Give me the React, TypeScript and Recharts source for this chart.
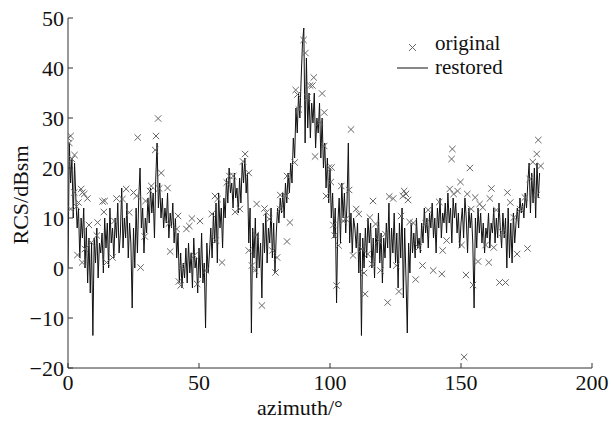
import React from "react";
import { ComposedChart, Line, Scatter, XAxis, YAxis } from "recharts";

// restored curve, one value every 0.5 deg from 0 to 180
const AZ_STEP = 0.5;
const RESTORED = [
  0, 25, 17, 22, 10, 21, 14, 8, 12, 2,
  10, 6, 12, 0, 8, -3, 6, -5, 5, -13.5,
  6, 1, 8, -2, 5, 3, 7, -1, 10, 4,
  9, 0, 12, 5, 8, 2, 10, 6, 13, 3,
  7, 16, 4, 10, 6, 13, 2, 9, 5, -8,
  8, 0, 12, 3, 14, 20, 8, 12, 3, 10,
  7, 14, 9, 16, 11, 15, 6, 18, 25, 12,
  17, 10, 14, 8, 12, 9, 15, 6, 11, 8,
  13, 5, 10, 2, 7, -3, 3, -4, 1, -2,
  4, -3, 5, -1, 3, -4, 6, 0, 2, -5,
  4, -2, 7, -3, 1, -12, 5, -1, 3, 8,
  2, 11, 5, 13, 1, 15, 8, 12, 4, 14,
  10, 18, 13, 20, 15, 17, 12, 19, 14, 16,
  11, 18, 13, 21, 17, 22, 15, 19, 5, 12,
  -13, 8, 2, 10, -2, 7, 0, 5, -6, 9,
  3, 11, 1, 8, 5, 12, 2, 9, -1, 7,
  12, 9, 14, 11, 15, 10, 17, 13, 19, 15,
  21, 17, 26, 22, 32, 27, 35, 30, 38, 45,
  48, 25, 42, 28, 35, 26, 33, 29, 35, 24,
  30, 27, 33, 22, 30, 20, 25, 16, 22, 13,
  20, 10, 15, 6, 12, -7, 9, 14, 5, 17,
  10, 15, 7, 13, 25, 5, 11, 3, 10, 8,
  4, 9, -1, 7, -13.5, 6, 0, 8, 2, 10,
  5, 9, 0, 6, -2, 8, 3, 11, 1, 7,
  -3, 6, 2, 9, 4, 13, 0, 8, 3, 11,
  1, 7, -4, 9, 2, 12, -6, 8, -2, -13,
  5, -1, 9, 3, 7, 2, 10, 4, 6, 3,
  9, 5, 12, 7, 10, 4, 11, 8, 13, 6,
  10, 3, 12, 8, 14, 6, 11, 9, 13, 7,
  15, 9, 12, 5, 14, 10, 13, 7, 11, 4,
  9, 12, 6, 14, 10, 3, 12, 8, 11, 5,
  -8, 10, 4, 12, 7, 11, 5, 9, 3, 8,
  6, 11, 4, 9, 7, 12, 5, 10, 6, 13,
  8, 4, 11, 6, 10, 0, 12, 2, 9, 1,
  11, 5, 9, 12, 8, 14, 11, 13, 10, 15,
  12, 17, 21, 11, 19, 13, 20, 10, 21, 14,
  19,
];

// original samples (x markers)
const ORIG_AZ = [
  0, 0.5, 1, 1.5, 2.5, 1, 2.4, 3.3, 4, 3.6, 5, 5.5, 6.2, 7.4, 5.4, 6.5, 8, 8.9,
  11.3, 11, 13.2, 14, 13.7, 14.7, 17, 18.5, 17.7, 20.8, 22.2, 23.4, 25, 26.6,
  26.2, 27.7, 29.6, 29.3, 31.3, 31.8, 33.3, 33.6, 34.4, 34.8, 35.6, 38, 38.5,
  39, 41.5, 42, 42.3, 43, 43.3, 45.2, 46.3, 47.3, 48.2, 50.4, 49.3, 52.7, 54.9,
  56.1, 57.1, 56.4, 58.8, 60.6, 61.6, 63.1, 63.8, 65.6, 66.8, 67.6, 69, 69,
  70.2, 71.3, 71.7, 72, 74, 75, 75.7, 76.8, 78, 79.2, 79.8, 81, 81, 83.2, 83.6,
  84.7, 83.6, 86.5, 86.9, 87.6, 88.1, 89.9, 90.6, 91.4, 92.4, 93.3, 93.8, 94.3,
  96.1, 97, 97.8, 97.8, 98.5, 99.6, 100.6, 100.3, 101.3, 101.8, 102.5, 103.3,
  104.3, 105.1, 106, 107.3, 108, 108.8, 110, 111, 112.2, 113, 113.4, 114.4,
  115.2, 116, 116.4, 117.4, 118.5, 119.3, 121.1, 122, 122.6, 124.1, 125.3,
  126.3, 127.1, 127.8, 128.3, 129, 129.8, 130.4, 131.8, 132.7, 133.8, 135.3,
  136.5, 137.5, 139.4, 141.7, 142.7, 143, 144.5, 145.7, 146.4, 146.7, 147.2,
  148.7, 149.8, 150.2, 151.2, 151.9, 152.4, 153.4, 153.9, 154.6, 155.4, 156.5,
  157.1, 158.3, 159.4, 160.6, 161, 161.6, 162.5, 163.5, 164.7, 165.8, 167,
  167.7, 168.8, 170.2, 171.4, 172.5, 174.4, 175.4, 176.2, 177.4, 178.9, 179.5,
  180.4, 178.9,
];
const ORIG_RCS = [
  26, 25, 26.4, 21.8, 22.6, 11.8, 15.1, 12.3, 13.1, 2.6, 15.8, 15.1, 14.8, 13.9,
  1.1, 3.8, 8.6, 5.1, 9.1, 6.5, 13.3, 13.4, 11.2, 1.1, 2.1, 13.9, 9.4, 13.8,
  15.8, 11.1, 15.1, 26.1, 14.4, 0.1, 13.4, 6.3, 15.4, 16.4, 23.6, 26.4, 29.9,
  15.9, 19, 16, 8.9, 3.3, 7.8, 10.4, -2.7, -3.5, 0.3, 7.8, 8.4, 9.9, 2.5, 9.4,
  -3.2, -0.5, 10.8, 14.4, 13.8, 5.5, 1.1, 17.1, 18.4, 18.4, 11.2, 11.8, 21.3,
  22.8, 19, 3.5, 0.5, -0.5, 6.6, 12.8, -7.5, 11.9, 11.1, 9.8, 3.5, -0.9, 2.1,
  11.8, 14.6, 14.4, 5.3, 9.1, 18.4, 21.1, 35.6, 34.7, 31.7, 45.6, 43, 34.1,
  36.5, 36.5, 38.1, 22.3, 29.1, 34.9, 31.1, 24.4, 14.4, 20.1, 20.1, 17.2, 8.6,
  6.5, -3.5, 4.5, 16.4, 9.4, 9.8, 15.6, 27.7, 2.5, 11.8, 10.8, 3.8, -1, -5.2,
  2.8, 10.1, 0.8, 13.4, 8.8, 5.5, -0.5, 6.8, -6.9, 14.3, 13.9, 0.5, -4.7, 10.4,
  14.4, 15.4, 14.8, 13.6, 9.2, 9, -2.3, 4.1, 0.5, 8.9, 11.6, -0.5, 13.2, -1.2,
  3.5, 5.5, 15.8, 21.8, 23.8, 14.8, 15.4, 17.2, 4.6, -17.8, -1.4, 14.8, 20,
  11.8, -3.4, 14.1, 1.3, 12.8, 12.1, 4.6, 1.1, 13.9, 15.9, 4.1, 11.6, -2.9, 7.1,
  -2.9, 15.1, 13.1, 10.1, 2.8, 11.8, 14.1, 3.9, 17.8, 21.2, 22.8, 25.6, 20.4,
  14.6,
];

const X_TICKS = [0, 50, 100, 150, 200];
const Y_TICKS = [-20, -10, 0, 10, 20, 30, 40, 50];

const lineData = RESTORED.map((v, i) => ({ az: i * AZ_STEP, rcs: v }));
const scatterData = ORIG_AZ.map((a, i) => ({ az: a, rcs: ORIG_RCS[i] }));

const FONT = '"Liberation Serif", "Times New Roman", serif';
const INK = "#111";

function XMark(props: any) {
  const { cx, cy } = props;
  if (cx == null || cy == null) return null;
  const r = 3.2;
  return (
    <g stroke="#666" strokeWidth={1}>
      <line x1={cx - r} y1={cy - r} x2={cx + r} y2={cy + r} />
      <line x1={cx - r} y1={cy + r} x2={cx + r} y2={cy - r} />
    </g>
  );
}

const fmt = (v: number) => (v < 0 ? "\u2212" + Math.abs(v) : String(v));

export default function App() {
  return (
    <div style={{ position: "absolute", left: 0, top: 0, width: 611, height: 425, background: "#fff", fontFamily: FONT }}>
      <ComposedChart
        width={611}
        height={425}
        margin={{ top: 18, right: 19, bottom: 27, left: 28 }}
      >
        <XAxis
          type="number"
          dataKey="az"
          domain={[0, 200]}
          ticks={X_TICKS}
          tickFormatter={fmt}
          height={30}
          tickSize={-5}
          tickMargin={11}
          stroke="#333"
          tick={{ fill: INK, fontSize: 22, fontFamily: FONT }}
          allowDataOverflow
        />
        <YAxis
          type="number"
          dataKey="rcs"
          domain={[-20, 50]}
          ticks={Y_TICKS}
          tickFormatter={fmt}
          width={40}
          tickSize={-5}
          tickMargin={9}
          stroke="#333"
          tick={{ fill: INK, fontSize: 22, fontFamily: FONT }}
          allowDataOverflow
        />
        <Line
          data={lineData}
          dataKey="rcs"
          stroke="#111"
          strokeWidth={1}
          dot={false}
          activeDot={false}
          type="linear"
          isAnimationActive={false}
        />
        <Scatter
          data={scatterData}
          dataKey="rcs"
          shape={XMark}
          isAnimationActive={false}
        />
      </ComposedChart>

      {/* legend */}
      <div style={{ position: "absolute", left: 392, top: 31, fontSize: 21, color: INK, lineHeight: "24px" }}>
        <div style={{ display: "flex", alignItems: "center" }}>
          <svg width={40} height={24}>
            <g stroke="#666" strokeWidth={1}>
              <line x1={17} y1={13} x2={24} y2={20} />
              <line x1={17} y1={20} x2={24} y2={13} />
            </g>
          </svg>
          <span style={{ marginLeft: 3 }}>original</span>
        </div>
        <div style={{ display: "flex", alignItems: "center" }}>
          <svg width={40} height={24}>
            <line x1={5} y1={13} x2={36} y2={13} stroke="#111" strokeWidth={1} />
          </svg>
          <span style={{ marginLeft: 3 }}>restored</span>
        </div>
      </div>

      {/* axis titles */}
      <div style={{ position: "absolute", left: 240, top: 395, width: 120, textAlign: "center", fontSize: 22, color: INK }}>
        azimuth/°
      </div>
      <div
        style={{
          position: "absolute",
          left: 21,
          top: 195,
          fontSize: 22,
          color: INK,
          whiteSpace: "nowrap",
          transform: "translate(-50%, -50%) rotate(-90deg)",
        }}
      >
        RCS/dBsm
      </div>
    </div>
  );
}
